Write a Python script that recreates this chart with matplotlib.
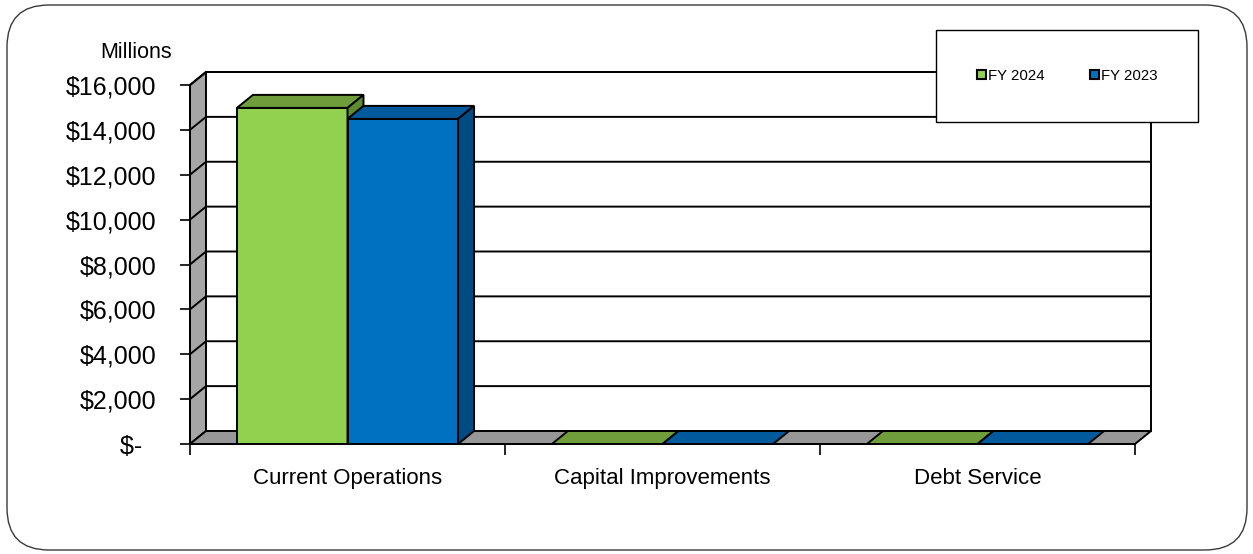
import matplotlib
matplotlib.use("Agg")
import matplotlib.pyplot as plt
from matplotlib.patches import Polygon, Rectangle, FancyBboxPatch, Patch

categories = ["Current Operations", "Capital Improvements", "Debt Service"]
series_names = ["FY 2024", "FY 2023"]
fy2024 = [14980, 0, 0]
fy2023 = [14490, 0, 0]
yticks = [0, 2000, 4000, 6000, 8000, 10000, 12000, 14000, 16000]
ytick_labels = ["$-  ", "$2,000", "$4,000", "$6,000", "$8,000", "$10,000", "$12,000", "$14,000", "$16,000"]

front_colors = ["#92D050", "#0070C0"]
top_colors = ["#6F9D3C", "#005A9C"]
side_colors = ["#5E8A30", "#004B82"]

W, H = 1253, 554
fig = plt.figure(figsize=(W / 100, H / 100), dpi=100)
fig.patch.set_facecolor("white")

# outer rounded frame
frame = FancyBboxPatch((0.07, 0.04), 12.40, 5.45, boxstyle="round,pad=0,rounding_size=0.42",
                       transform=fig.dpi_scale_trans, facecolor="none", edgecolor="#3a3a3a", lw=1.0)
fig.patches.append(frame)

x0, x1, yb, yt = 190, 1135, 444, 85
ax = fig.add_axes([x0 / W, (H - yb) / H, (x1 - x0) / W, (yb - yt) / H])
ax.set_xlim(0, 3)
ax.set_ylim(0, 16000)
ax.set_facecolor("none")

DX = 16 / ((x1 - x0) / 3)
DY = 13 / ((yb - yt) / 16000)
ymax = 16000
ncat = len(categories)
lw = 1.4

# left wall
ax.add_patch(Polygon([(0, 0), (DX, DY), (DX, ymax + DY), (0, ymax)], closed=True,
                     facecolor="#A6A6A6", edgecolor="black", lw=lw, clip_on=False, zorder=1))
# back wall
ax.add_patch(Polygon([(DX, DY), (ncat + DX, DY), (ncat + DX, ymax + DY), (DX, ymax + DY)], closed=True,
                     facecolor="white", edgecolor="black", lw=lw, clip_on=False, zorder=1))
# gridlines
for y in yticks[1:]:
    ax.plot([0, DX, ncat + DX], [y, y + DY, y + DY], color="black", lw=lw, clip_on=False, zorder=2)
# floor
ax.add_patch(Polygon([(0, 0), (ncat, 0), (ncat + DX, DY), (DX, DY)], closed=True,
                     facecolor="#979797", edgecolor="black", lw=lw, clip_on=False, zorder=3))

gap = 0.149
bw = (1 - 2 * gap) / 2
for j, vals in enumerate([fy2024, fy2023]):
    xs = [i + gap + j * bw for i in range(ncat)]
    bars = ax.bar(xs, vals, width=bw, align="edge", color=front_colors[j], edgecolor="black",
                  lw=lw, zorder=5 + j * 3, clip_on=False, label=series_names[j])
    for rect in bars:
        bx, h, w = rect.get_x(), rect.get_height(), rect.get_width()
        ax.add_patch(Polygon([(bx, h), (bx + w, h), (bx + w + DX, h + DY), (bx + DX, h + DY)], closed=True,
                             facecolor=top_colors[j], edgecolor="black", lw=lw, zorder=5 + j * 3 + 1,
                             clip_on=False))
        if h > 0:
            ax.add_patch(Polygon([(bx + w, 0), (bx + w + DX, DY), (bx + w + DX, h + DY), (bx + w, h)],
                                 closed=True, facecolor=side_colors[j], edgecolor="black", lw=lw,
                                 zorder=5 + j * 3 + 1, clip_on=False))

for s in ["top", "right"]:
    ax.spines[s].set_visible(False)
for s in ["left", "bottom"]:
    ax.spines[s].set_linewidth(lw)
    ax.spines[s].set_zorder(20)

ax.set_yticks(yticks)
ax.set_yticklabels(ytick_labels, fontsize=18, family="Liberation Sans")
ax.tick_params(axis="y", direction="out", length=7, width=1.2, pad=17)
ax.set_xticks([0, 1, 2, 3])
ax.set_xticklabels([])
ax.tick_params(axis="x", which="major", direction="out", length=8, width=1.2)
ax.set_xticks([0.5, 1.5, 2.5], minor=True)
ax.set_xticklabels(categories, minor=True, fontsize=16, family="Liberation Sans")
ax.tick_params(axis="x", which="minor", length=0, pad=17.5)

fig.text(136 / W, 1 - 53 / H, "Millions", ha="center", va="center", fontsize=15.5, family="Liberation Sans")

# legend box
lx0, ly0, lx1, ly1 = 936, 30, 1198, 122
fig.patches.append(Rectangle((lx0 / W, 1 - ly1 / H), (lx1 - lx0) / W, (ly1 - ly0) / H,
                             transform=fig.transFigure, facecolor="white", edgecolor="black", lw=1.0,
                             zorder=30))
handles = [Patch(facecolor=front_colors[k], edgecolor="black", lw=1.5) for k in range(2)]
leg = fig.legend(handles, series_names, loc="center", ncol=2,
                 bbox_to_anchor=(lx0 / W, 1 - ly1 / H, (lx1 - lx0) / W, (ly1 - ly0) / H),
                 frameon=False, handlelength=0.6, handleheight=0.6,
                 handletextpad=0.15, columnspacing=3.0, prop={"family": "Liberation Sans", "size": 10.8})
leg.set_zorder(31)

fig.savefig("out.png", dpi=100)
